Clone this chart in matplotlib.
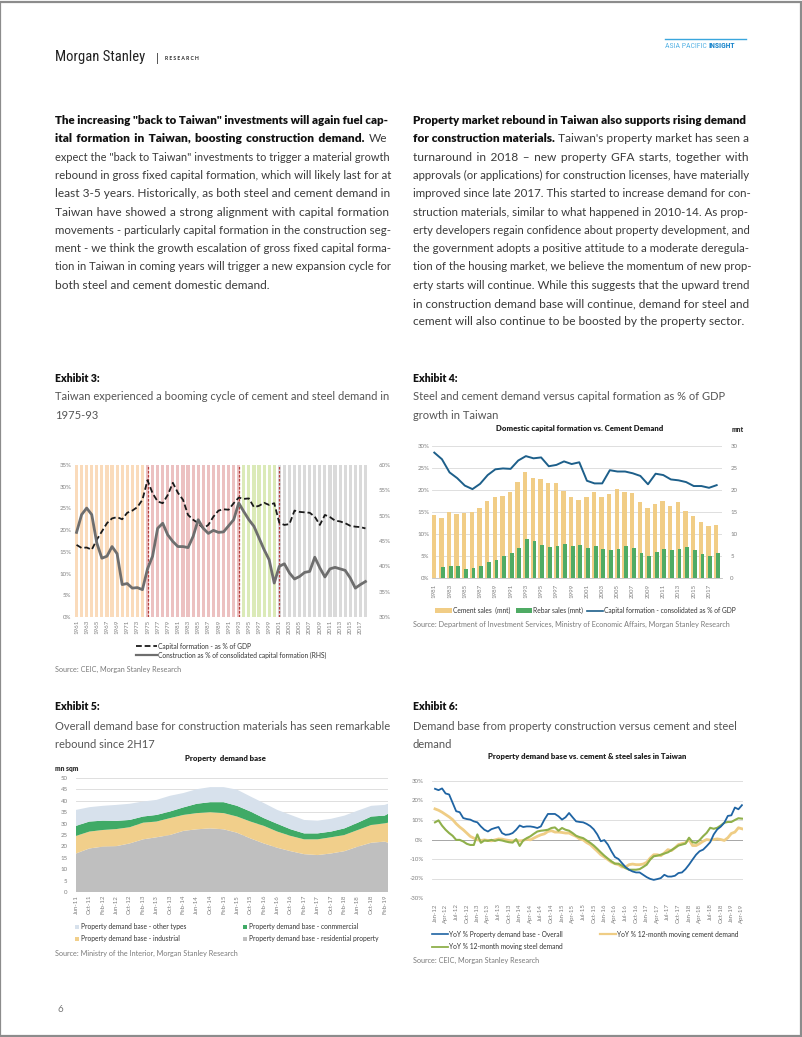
import numpy as np
import pandas as pd
import matplotlib
matplotlib.use("Agg")
import matplotlib.pyplot as plt
from matplotlib.lines import Line2D
from matplotlib.patches import Rectangle

plt.rcParams['font.family'] = ['Lato', 'DejaVu Sans']

# ------------------------------------------------------------------ data
# Exhibit 3
years_ex3 = list(range(1961, 2019))
cap_formation_gdp = [16.6, 15.9, 16.0, 15.5, 17.8, 19.7, 21.6, 22.7, 23.0, 22.5,
                     24.0, 24.5, 25.3, 27.0, 31.5, 28.5, 26.6, 26.2, 28.1, 30.9,
                     28.6, 27.0, 23.5, 22.4, 21.6, 20.4, 21.2, 23.1, 24.5, 24.8,
                     24.7, 26.2, 27.5, 27.2, 27.3, 25.3, 25.6, 26.3, 25.8, 26.2,
                     21.7, 21.2, 21.4, 24.5, 24.2, 24.1, 24.0, 23.1, 21.2, 23.5,
                     23.0, 22.2, 22.0, 21.6, 21.0, 20.8, 20.7, 20.4]
construction_share = [46.7, 50.2, 51.5, 50.2, 44.6, 41.6, 42.0, 43.9, 42.5, 36.4,
                      36.6, 35.7, 35.8, 35.4, 39.5, 42.0, 47.5, 48.5, 46.2, 44.9,
                      43.9, 43.9, 43.7, 45.9, 49.2, 47.5, 46.5, 47.1, 46.7, 46.8,
                      48.0, 49.2, 52.5, 50.8, 49.2, 47.9, 45.6, 43.3, 41.3, 36.7,
                      40.0, 40.5, 38.7, 37.5, 38.0, 38.8, 39.0, 41.8, 39.7, 37.9,
                      39.5, 39.8, 39.5, 39.2, 37.7, 35.7, 36.4, 37.0]
era_breaks = [1975, 1993, 2001]

# Exhibit 4
years_ex4 = list(range(1981, 2019))
cement_sales = [14.4, 13.6, 15.0, 14.5, 14.8, 15.1, 15.9, 17.6, 18.4, 18.6,
                19.5, 21.8, 24.0, 22.8, 22.5, 21.5, 21.5, 19.7, 18.4, 17.7,
                18.3, 19.6, 18.4, 19.1, 20.3, 19.5, 19.3, 17.2, 16.0, 16.9,
                17.5, 16.4, 17.3, 15.3, 14.2, 12.8, 11.9, 12.0]
rebar_sales = [np.nan, 2.6, 2.8, 2.7, 2.1, 2.3, 2.8, 3.6, 4.2, 4.9,
               5.7, 6.8, 8.8, 8.3, 7.6, 7.0, 7.3, 7.8, 7.2, 7.6,
               6.9, 7.3, 6.7, 6.4, 6.6, 7.3, 6.8, 5.7, 5.1, 5.9,
               6.6, 6.3, 6.7, 7.0, 6.4, 5.4, 5.1, 5.7]
cap_formation_consol = [28.5, 27.0, 24.0, 22.7, 21.0, 20.2, 21.4, 23.4, 24.7, 24.9,
                        24.8, 26.7, 27.7, 27.2, 27.4, 25.4, 25.7, 26.5, 25.9, 26.3,
                        22.1, 21.5, 21.5, 24.5, 24.2, 24.2, 23.8, 23.2, 21.3, 23.7,
                        23.4, 22.4, 22.2, 21.8, 20.9, 20.9, 20.5, 21.1]

# Exhibit 5 (mn sqm, sampled every 4 months from Jun-11, last = Mar-19)
ex5_dates = ['Jun-11', 'Oct-11', 'Feb-12', 'Jun-12', 'Oct-12', 'Feb-13', 'Jun-13',
             'Oct-13', 'Feb-14', 'Jun-14', 'Oct-14', 'Feb-15', 'Jun-15', 'Oct-15',
             'Feb-16', 'Jun-16', 'Oct-16', 'Feb-17', 'Jun-17', 'Oct-17', 'Feb-18',
             'Jun-18', 'Oct-18', 'Feb-19', 'Mar-19']
base_residential = [16.9, 19.1, 19.9, 20.1, 21.3, 23.1, 24.0, 25.0, 26.8, 27.5, 27.9, 27.5, 26.0,
                    23.5, 21.3, 19.4, 17.9, 16.6, 16.2, 16.9, 17.9, 19.9, 21.6, 22.1, 21.6]
base_industrial = [7.7, 7.4, 7.3, 7.5, 7.1, 7.3, 6.9, 7.4, 7.0, 7.1, 7.1, 7.1, 7.1,
                   7.4, 7.7, 7.1, 6.7, 6.5, 6.9, 7.1, 7.1, 7.3, 7.8, 8.0, 8.8]
base_commercial = [4.4, 4.4, 4.1, 3.6, 3.2, 2.7, 2.9, 2.9, 3.3, 4.1, 4.4, 4.8, 4.7,
                   4.4, 3.4, 3.4, 2.9, 2.6, 2.6, 2.5, 2.9, 3.2, 3.7, 3.4, 3.9]
base_other = [7.0, 6.3, 6.5, 7.0, 7.1, 6.6, 6.6, 6.9, 6.3, 6.4, 6.6, 6.6, 7.1,
              6.6, 6.6, 6.1, 6.3, 5.9, 5.6, 5.6, 5.6, 5.3, 4.7, 4.7, 4.4]

# Exhibit 6 (monthly, Jan-12 .. Apr-19)
yoy_property = [26.0, 25.3, 26.2, 23.6, 23.1, 18.8, 14.5, 14.0, 11.0, 10.5, 10.2, 9.3,
                8.8, 6.7, 5.0, 4.1, 5.3, 5.9, 6.4, 3.3, 2.4, 2.6, 3.3, 5.0,
                7.2, 6.4, 6.7, 6.7, 6.4, 5.9, 6.7, 10.2, 13.1, 13.1, 13.1, 11.9,
                10.2, 11.4, 13.6, 11.4, 9.3, 9.0, 8.8, 8.0, 6.9, 5.2, 2.6, -0.9,
                -0.3, -2.6, -6.0, -9.0, -10.0, -12.1, -14.1, -15.5, -16.4, -16.9, -16.9, -18.1,
                -19.3, -20.2, -20.7, -20.3, -19.8, -18.1, -19.0, -19.0, -18.6, -17.2, -16.9, -15.2,
                -12.9, -10.3, -7.8, -6.0, -5.2, -3.4, -1.4, 2.6, 5.2, 6.6, 8.6, 12.1,
                12.4, 16.4, 15.5, 17.6]
yoy_cement = [15.7, 15.0, 14.0, 12.8, 11.6, 10.2, 8.1, 6.4, 5.0, 3.3, 1.6, 0.7,
              -0.2, -0.5, -0.2, -0.5, -0.7, -0.2, 0.3, 0.2, -0.2, -0.5, -0.7, -0.5,
              -0.7, -0.5, 0.2, -0.2, 0.7, 1.6, 2.4, 2.9, 4.1, 4.5, 3.8, 3.8,
              3.6, 3.3, 3.3, 2.4, 1.6, 0.3, -0.2, -1.6, -2.6, -4.3, -6.0, -7.8,
              -9.0, -10.3, -11.6, -12.4, -12.9, -14.1, -14.1, -12.9, -12.6, -12.9, -12.9, -12.6,
              -11.7, -9.5, -7.8, -7.8, -8.3, -6.9, -5.2, -5.7, -4.3, -2.6, -2.1, -1.7,
              0.0, -3.1, -3.1, -2.1, -0.9, 0.0, -0.3, 0.0, 0.3, 0.0, -0.5, 0.9,
              3.1, 3.8, 6.0, 5.5]
yoy_steel = [8.8, 9.8, 7.1, 5.0, 3.3, 1.9, -0.2, -0.2, -1.0, -2.2, -2.8, -2.8,
             2.6, -1.7, -0.5, -0.7, -0.2, -0.7, -0.2, -0.5, -1.0, -1.4, -1.6, 0.2,
             -3.3, -0.5, 0.7, 1.6, 2.9, 4.1, 4.5, 4.7, 5.0, 5.9, 6.2, 4.5,
             5.9, 5.0, 4.5, 3.3, 1.9, 1.2, 0.7, -0.5, -1.7, -3.1, -4.8, -6.6,
             -8.3, -9.8, -11.2, -12.4, -12.4, -13.4, -14.7, -15.5, -15.5, -15.5, -15.2, -14.1,
             -12.9, -10.3, -8.6, -8.3, -7.8, -7.2, -6.6, -5.5, -4.3, -3.1, -2.6, -2.1,
             0.9, -1.4, -1.7, -0.3, 1.7, 3.4, 6.0, 5.5, 6.0, 7.2, 8.6, 9.0,
             9.0, 10.0, 10.9, 10.7]

# ------------------------------------------------------------------ page text
left_para = [
    ('The increasing "back to Taiwan" investments will again fuel cap-', ''),
    ('ital formation in Taiwan, boosting construction demand.', 'We'),
    ('', 'expect the "back to Taiwan" investments to trigger a material growth'),
    ('', 'rebound in gross fixed capital formation, which will likely last for at'),
    ('', 'least 3-5 years. Historically, as both steel and cement demand in'),
    ('', 'Taiwan have showed a strong alignment with capital formation'),
    ('', 'movements - particularly capital formation in the construction seg-'),
    ('', 'ment - we think the growth escalation of gross fixed capital forma-'),
    ('', 'tion in Taiwan in coming years will trigger a new expansion cycle for'),
    ('', 'both steel and cement domestic demand.'),
]
right_para = [
    ('Property market rebound in Taiwan also supports rising demand', ''),
    ('for construction materials.', "Taiwan's property market has seen a"),
    ('', 'turnaround in 2018 \u2013 new property GFA starts, together with'),
    ('', 'approvals (or applications) for construction licenses, have materially'),
    ('', 'improved since late 2017. This started to increase demand for con-'),
    ('', 'struction materials, similar to what happened in 2010-14. As prop-'),
    ('', 'erty developers regain confidence about property development, and'),
    ('', 'the government adopts a positive attitude to a moderate deregula-'),
    ('', 'tion of the housing market, we believe the momentum of new prop-'),
    ('', 'erty starts will continue. While this suggests that the upward trend'),
    ('', 'in construction demand base will continue, demand for steel and'),
    ('', 'cement will also continue to be boosted by the property sector.'),
]

# ------------------------------------------------------------------ figure
W, H = 802, 1037
fig = plt.figure(figsize=(W / 100, H / 100), dpi=100)
fig.patch.set_facecolor('white')
renderer = fig.canvas.get_renderer()


def fx(x):
    return x / W


def fy(y):
    return 1 - y / H


def add_ax(l, t, r, b):
    return fig.add_axes([l / W, 1 - b / H, (r - l) / W, (b - t) / H])


def measure(s, **kw):
    t = fig.text(0, 0, s, **kw)
    w = t.get_window_extent(renderer).width
    t.remove()
    return w


def fine_space(**kw):
    base = measure('aa', **kw)
    best = None
    for c in ['\u200a', '\u2009', '\u2006', '\u2005', '\u2004']:
        w = (measure('a' + c * 20 + 'a', **kw) - base) / 20
        if 0.4 <= w <= 2.2 and (best is None or w < best[1]):
            best = (c, w)
    return best


def draw_para(lines, x0, x1, y0, dy, size):
    for i, (btxt, ntxt) in enumerate(lines):
        segs = [(btxt.split(), True), (ntxt.split(), False)]
        words = [(w, b) for ws, b in segs for w in ws]
        last = (i == len(lines) - 1)
        fs = size
        while True:
            sp = measure('a a', fontsize=fs) - measure('aa', fontsize=fs)
            widths = [measure(w, fontsize=fs, fontweight='heavy' if b else 'normal')
                      for w, b in words]
            if last or len(words) < 2:
                gap = sp
                break
            gap = (x1 - x0 - sum(widths)) / (len(words) - 1)
            if gap >= 0.85 * sp or fs < 5:
                break
            fs -= 0.1
        y = y0 + i * dy + 4.0
        x = x0
        for ws, b in segs:
            if not ws:
                continue
            kw = dict(fontsize=fs, fontweight='heavy' if b else 'normal')
            spb = measure('a a', **kw) - measure('aa', **kw)
            extra = max(0.0, gap - spb)
            fsp = fine_space(**kw)
            if fsp is not None:
                k = int(round(extra / fsp[1]))
                sep = ' ' + fsp[0] * k
            else:
                sep = ' ' * (1 + int(round(extra / spb)))
            s = sep.join(ws)
            fig.text(fx(x), fy(y), s, va='baseline', ha='left',
                     color='#111111' if b else '#3a3a3a', **kw)
            x += measure(s, **kw) + gap


# page border
fig.add_artist(Rectangle((0.0005, 0.0005), 0.998, 0.998, transform=fig.transFigure,
                         fill=False, edgecolor='#8c8c8c', linewidth=1.6))

# header
fig.text(fx(55), fy(57), 'Morgan Stanley', fontsize=10.5, color='#222222',
         family=['Liberation Sans Narrow', 'Roboto Condensed', 'Roboto'],
         va='center', ha='left')
fig.text(fx(156), fy(58), '|', fontsize=8, color='#222222', va='center', ha='left')
fig.text(fx(165), fy(58), 'R E S E A R C H', fontsize=3.6, fontweight='bold',
         color='#222222', va='center', ha='left')
fig.add_artist(Line2D([fx(665), fx(746)], [fy(39), fy(39)], transform=fig.transFigure,
                      color='#3aa6dd', lw=1.0))
fig.text(fx(665), fy(46), 'ASIA PACIFIC ', fontsize=5.6, color='#5ab4e5',
         va='center', ha='left', family=['Roboto Condensed', 'Roboto'])
wA = measure('ASIA PACIFIC ', fontsize=5.6, family=['Roboto Condensed', 'Roboto'])
fig.text(fx(665 + wA), fy(46), 'INSIGHT', fontsize=5.6, color='#1b86cc',
         fontweight='bold', va='center', ha='left', family=['Roboto Condensed', 'Roboto'])

# paragraphs
draw_para(left_para, 55, 388, 120, 18.3, 8.6)
draw_para(right_para, 413, 747, 120, 18.3, 8.6)


def exhibit(x, y, num, lines):
    fig.text(fx(x), fy(y), num, fontsize=7.6, fontweight='heavy', color='#111111',
             va='center_baseline', ha='left')
    for i, ln in enumerate(lines):
        fig.text(fx(x), fy(y + 19 + i * 18.7), ln, fontsize=8.0, color='#555555',
                 va='center_baseline', ha='left')


exhibit(55, 377, 'Exhibit 3:', ['Taiwan experienced a booming cycle of cement and steel demand in', '1975-93'])
exhibit(413, 377, 'Exhibit 4:', ['Steel and cement demand versus capital formation as % of GDP', 'growth in Taiwan'])
exhibit(55, 706, 'Exhibit 5:', ['Overall demand base for construction materials has seen remarkable', 'rebound since 2H17'])
exhibit(413, 706, 'Exhibit 6:', ['Demand base from property construction versus cement and steel', 'demand'])

src_kw = dict(fontsize=5.2, color='#7a7a7a', va='center', ha='left')
fig.text(fx(55), fy(669), 'Source: CEIC, Morgan Stanley Research', **src_kw)
fig.text(fx(413), fy(624), 'Source: Department of Investment Services, Ministry of Economic Affairs, Morgan Stanley Research', **src_kw)
fig.text(fx(55), fy(953), 'Source: Ministry of the Interior, Morgan Stanley Research', **src_kw)
fig.text(fx(413), fy(960), 'Source: CEIC, Morgan Stanley Research', **src_kw)
fig.text(fx(57), fy(1010), '6', fontsize=7, color='#777777', va='center', ha='left')

TICK = dict(labelsize=4.4, labelcolor='#808080', length=0, pad=2)
GRID = '#d9d9d9'


def clean(ax):
    for s in ax.spines.values():
        s.set_visible(False)


# ------------------------------------------------------------------ Exhibit 3
ax3 = add_ax(74, 465, 368, 617)
era_cols = []
for y in years_ex3:
    if y < era_breaks[0]:
        era_cols.append('#fadbbb')
    elif y <= era_breaks[1]:
        era_cols.append('#ecc1c1')
    elif y < era_breaks[2]:
        era_cols.append('#dbeab8')
    else:
        era_cols.append('#dadada')
ax3.bar(years_ex3, np.full(len(years_ex3), 35.0), width=0.62, color=era_cols, linewidth=0, zorder=1)
for b in era_breaks:
    ax3.axvline(b, color='#b5403d', ls=(0, (2, 1.2)), lw=0.9, zorder=2)
ax3.plot(years_ex3, cap_formation_gdp, color='#1a1a1a', ls=(0, (3.2, 1.6)), lw=1.3, zorder=4)
ax3.set_xlim(1960.5, 2018.5)
ax3.set_ylim(0, 35)
ax3.set_yticks(np.arange(0, 36, 5))
ax3.set_yticklabels([f'{v}%' for v in range(0, 36, 5)])
ax3.set_xticks(years_ex3[::2])
ax3.set_xticklabels([str(y) for y in years_ex3[::2]], rotation=90)
ax3.tick_params(**TICK)
clean(ax3)
ax3r = ax3.twinx()
ax3r.plot(years_ex3, construction_share, color='#6e6e6e', lw=2.0, zorder=3)
ax3r.set_ylim(30, 60)
ax3r.set_yticks(np.arange(30, 61, 5))
ax3r.set_yticklabels([f'{v}%' for v in range(30, 61, 5)])
ax3r.tick_params(**TICK)
ax3r.tick_params(pad=8)
clean(ax3r)

leg_kw = dict(fontsize=4.8, color='#333333', va='center', ha='left')
fig.add_artist(Line2D([fx(136), fx(157)], [fy(646), fy(646)], transform=fig.transFigure,
                      color='#1a1a1a', ls=(0, (3.2, 1.6)), lw=1.3))
fig.text(fx(158), fy(646), 'Capital formation - as % of GDP', **leg_kw)
fig.add_artist(Line2D([fx(136), fx(157)], [fy(655), fy(655)], transform=fig.transFigure,
                      color='#6e6e6e', lw=1.6))
fig.text(fx(158), fy(655), 'Construction as % of consolidated capital formation (RHS)', **leg_kw)

# ------------------------------------------------------------------ Exhibit 4
fig.text(fx(580), fy(429), 'Domestic capital formation vs. Cement Demand', fontsize=5.6,
         fontweight='heavy', color='#222222', va='center', ha='center')
fig.text(fx(738), fy(429), 'mnt', fontsize=4.8, fontweight='heavy', color='#333333',
         va='center', ha='center')
ax4 = add_ax(432, 446, 722, 578)
ax4r = ax4.twinx()
yrs4 = np.array(years_ex4)
ax4r.bar(yrs4 - 0.08, cement_sales, width=0.58, color='#f1cd86', linewidth=0, zorder=2)
ax4r.bar(yrs4 + 0.14, rebar_sales, width=0.5, color='#4fab64', linewidth=0, zorder=3)
ax4r.set_ylim(0, 30)
ax4r.set_yticks(np.arange(0, 31, 5))
ax4r.tick_params(**TICK)
ax4r.tick_params(pad=6)
clean(ax4r)
ax4.set_zorder(ax4r.get_zorder() + 1)
ax4.patch.set_visible(False)
ax4.plot(yrs4, cap_formation_consol, color='#1d5f8a', lw=1.4, zorder=5)
ax4.set_ylim(0, 30)
ax4.set_xlim(1980.7, 2018.7)
ax4.set_yticks(np.arange(0, 31, 5))
ax4.set_yticklabels([f'{v}%' for v in range(0, 31, 5)])
ax4.set_xticks(years_ex4[::2])
ax4.set_xticklabels([str(y) for y in years_ex4[::2]], rotation=90)
ax4.tick_params(**TICK)
ax4.tick_params(axis='x', pad=4)
for v in range(5, 31, 5):
    ax4r.axhline(v, color=GRID, lw=0.6, zorder=0)
clean(ax4)
ax4.spines['bottom'].set_visible(True)
ax4.spines['bottom'].set_color('#bfbfbf')
ax4.spines['bottom'].set_linewidth(0.6)

fig.add_artist(Rectangle((fx(435), fy(613)), 17 / W, 5 / H, transform=fig.transFigure,
                         color='#f1cd86', lw=0))
fig.text(fx(453), fy(610.5), 'Cement sales  (mnt)', **leg_kw)
fig.add_artist(Rectangle((fx(516), fy(613)), 16 / W, 5 / H, transform=fig.transFigure,
                         color='#4fab64', lw=0))
fig.text(fx(533), fy(610.5), 'Rebar sales (mnt)', **leg_kw)
fig.add_artist(Line2D([fx(587), fx(603)], [fy(610.5), fy(610.5)], transform=fig.transFigure,
                      color='#1d5f8a', lw=1.2))
fig.text(fx(604), fy(610.5), 'Capital formation - consolidated as % of GDP', **leg_kw)

# ------------------------------------------------------------------ Exhibit 5
fig.text(fx(225), fy(758), 'Property  demand base', fontsize=5.6, fontweight='heavy',
         color='#222222', va='center', ha='center')
fig.text(fx(55), fy(768), 'mn sqm', fontsize=4.8, fontweight='heavy', color='#333333',
         va='center', ha='left')
ax5 = add_ax(76, 778, 388, 892)
start5 = pd.Period('2011-06', freq='M')
x5 = [(pd.Period(pd.to_datetime(d, format='%b-%y'), freq='M') - start5).n for d in ex5_dates]
ax5.stackplot(x5, base_residential, base_industrial, base_commercial, base_other,
              colors=['#bfbfbf', '#f1cf8b', '#3faa66', '#d7e1ec'], linewidth=0, zorder=2)
ax5.set_xlim(0, x5[-1])
ax5.set_ylim(0, 50)
ax5.set_yticks(np.arange(0, 51, 5))
for v in range(5, 51, 5):
    ax5.axhline(v, color=GRID, lw=0.6, zorder=1)
lab5 = pd.period_range('2011-06', '2019-02', freq='M')[::4]
ax5.set_xticks([(p - start5).n for p in lab5])
ax5.set_xticklabels([p.strftime('%b-%y') for p in lab5], rotation=90)
ax5.tick_params(**TICK)
ax5.tick_params(axis='y', pad=6)
clean(ax5)

leg5 = [('#d7e1ec', 'Property demand base - other types', 75, 927),
        ('#3faa66', 'Property demand base - conmmercial', 243, 927),
        ('#f1cf8b', 'Property demand base - industrial', 75, 939),
        ('#bfbfbf', 'Property demand base - residential property', 243, 939)]
for c, lbl, lx, ly in leg5:
    fig.add_artist(Rectangle((fx(lx), fy(ly + 2)), 4 / W, 4 / H, transform=fig.transFigure,
                             color=c, lw=0))
    fig.text(fx(lx + 6), fy(ly), lbl, **leg_kw)

# ------------------------------------------------------------------ Exhibit 6
fig.text(fx(587), fy(757), 'Property demand base vs. cement & steel sales in Taiwan',
         fontsize=5.6, fontweight='heavy', color='#222222', va='center', ha='center')
ax6 = add_ax(432, 781, 743, 898)
x6 = np.arange(len(yoy_property))
for v in (-30, -20, -10, 10, 20, 30):
    ax6.axhline(v, color=GRID, lw=0.6, zorder=1)
ax6.axhline(0, color='#a6a6a6', lw=0.7, zorder=1)
ax6.plot(x6, yoy_cement, color='#efcd85', lw=2.0, zorder=3)
ax6.plot(x6, yoy_steel, color='#8fb04b', lw=1.5, zorder=4)
ax6.plot(x6, yoy_property, color='#1f64a3', lw=1.3, zorder=5)
ax6.set_xlim(-0.85, 87.3)
ax6.set_ylim(-30, 30)
ax6.set_yticks(np.arange(-30, 31, 10))
ax6.set_yticklabels([f'{v}%' for v in range(-30, 31, 10)])
start6 = pd.Period('2012-01', freq='M')
lab6 = pd.period_range('2012-01', '2019-04', freq='M')[::3]
ax6.set_xticks([(p - start6).n for p in lab6])
ax6.set_xticklabels([p.strftime('%b-%y') for p in lab6], rotation=90)
ax6.tick_params(**TICK)
ax6.tick_params(axis='y', pad=6)
ax6.tick_params(axis='x', pad=4)
clean(ax6)

fig.add_artist(Line2D([fx(432), fx(448)], [fy(934), fy(934)], transform=fig.transFigure,
                      color='#1f64a3', lw=1.2))
fig.text(fx(449), fy(934), 'YoY % Property demand base - Overall', **leg_kw)
fig.add_artist(Line2D([fx(600), fx(616)], [fy(934), fy(934)], transform=fig.transFigure,
                      color='#efcd85', lw=1.6))
fig.text(fx(617), fy(934), 'YoY % 12-month moving cement demand', **leg_kw)
fig.add_artist(Line2D([fx(432), fx(448)], [fy(947), fy(947)], transform=fig.transFigure,
                      color='#8fb04b', lw=1.3))
fig.text(fx(449), fy(947), 'YoY % 12-month moving steel demand', **leg_kw)

fig.savefig('out.png', dpi=100, facecolor='white')
